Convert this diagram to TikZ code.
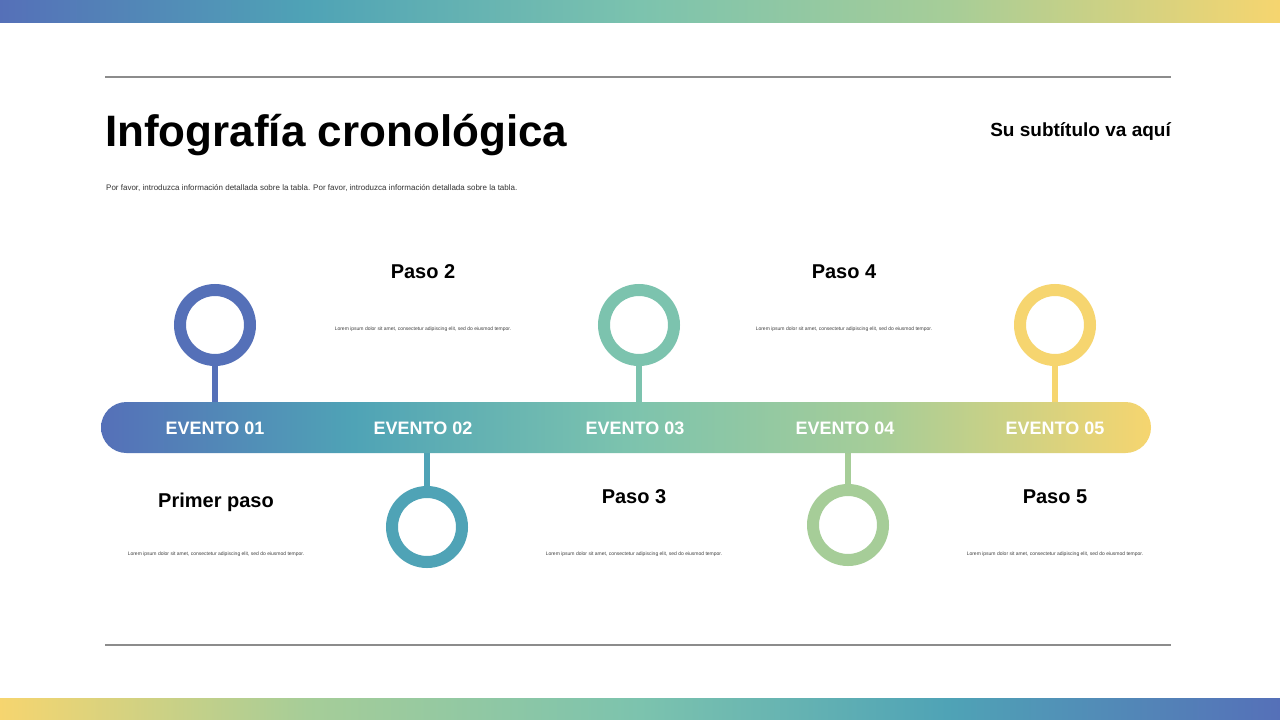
\documentclass[tikz,border=0pt]{standalone}
\usepackage{fontspec}
\setmainfont{Liberation Sans}
\definecolor{cA}{HTML}{5570B8}
\definecolor{cB}{HTML}{4FA3B6}
\definecolor{cC}{HTML}{7CC3AE}
\definecolor{cD}{HTML}{A6CD98}
\definecolor{cE}{HTML}{F6D56F}
\pgfdeclarehorizontalshading{tlfwd}{100bp}{color(0bp)=(cA); color(25bp)=(cA); color(37bp)=(cB); color(50bp)=(cC); color(62bp)=(cD); color(75bp)=(cE); color(100bp)=(cE)}
\pgfdeclarehorizontalshading{tlrev}{100bp}{color(0bp)=(cE); color(25bp)=(cE); color(37bp)=(cD); color(50bp)=(cC); color(62bp)=(cB); color(75bp)=(cA); color(100bp)=(cA)}
\tikzset{
 ring/.style={line width=12pt},
 stem/.style={line width=6pt},
 ev/.style={text=white,font=\bfseries\fontsize{18}{20}\selectfont},
 paso/.style={font=\bfseries\fontsize{20}{22}\selectfont},
 lorem/.style={font=\fontsize{5}{6}\selectfont,text=black!75},
 rule/.style={draw=black!45,line width=1.2pt}
}
\begin{document}
\begin{tikzpicture}[x=1pt,y=-1pt]
\useasboundingbox (0,0) rectangle (1280,720);
\fill[white] (0,0) rectangle (1280,720);
\shade[shading=tlfwd] (0,0) rectangle (1280,22);
\shade[shading=tlrev] (0,698) rectangle (1280,720);
\draw[rule] (105,77) -- (1171,77);
\draw[rule] (105,645) -- (1171,645);
\node[anchor=base west,font=\bfseries\fontsize{44}{48}\selectfont,inner sep=0] (title) at (105,146) {Infografía cronológica};
\node[anchor=base east,font=\bfseries\fontsize{19}{22}\selectfont,inner sep=0] (sub) at (1171,136) {Su subtítulo va aquí};
\node[anchor=base west,font=\fontsize{8}{10}\selectfont,inner sep=0,text=black!80] (desc) at (106,190) {Por favor, introduzca información detallada sobre la tabla. Por favor, introduzca información detallada sobre la tabla.};
% stems
\draw[stem,cA] (215,360) -- (215,405);
\draw[stem,cB] (427,450) -- (427,490);
\draw[stem,cC] (639,360) -- (639,405);
\draw[stem,cD] (848,450) -- (848,490);
\draw[stem,cE] (1055,360) -- (1055,405);
% bar
\shade[shading=tlfwd,rounded corners=25.5pt] (101,402) rectangle (1151,453);
\node[ev] (e1) at (215,428) {EVENTO 01};
\node[ev] (e2) at (423,428) {EVENTO 02};
\node[ev] (e3) at (635,428) {EVENTO 03};
\node[ev] (e4) at (845,428) {EVENTO 04};
\node[ev] (e5) at (1055,428) {EVENTO 05};
% rings
\draw[ring,cA] (215,325) circle (35);
\draw[ring,cB] (427,527) circle (35);
\draw[ring,cC] (639,325) circle (35);
\draw[ring,cD] (848,525) circle (35);
\draw[ring,cE] (1055,325) circle (35);
% labels
\node[paso] (p2) at (423,272) {Paso 2};
\node[paso] (p4) at (844,272) {Paso 4};
\node[paso] (p1) at (216,502) {Primer paso};
\node[paso] (p3) at (634,497) {Paso 3};
\node[paso] (p5) at (1055,497) {Paso 5};
\node[lorem] (l2) at (423,329) {Lorem ipsum dolor sit amet, consectetur adipiscing elit, sed do eiusmod tempor.};
\node[lorem] (l4) at (844,329) {Lorem ipsum dolor sit amet, consectetur adipiscing elit, sed do eiusmod tempor.};
\node[lorem] (l1) at (216,554) {Lorem ipsum dolor sit amet, consectetur adipiscing elit, sed do eiusmod tempor.};
\node[lorem] (l3) at (634,554) {Lorem ipsum dolor sit amet, consectetur adipiscing elit, sed do eiusmod tempor.};
\node[lorem] (l5) at (1055,554) {Lorem ipsum dolor sit amet, consectetur adipiscing elit, sed do eiusmod tempor.};
\end{tikzpicture}
\end{document}
